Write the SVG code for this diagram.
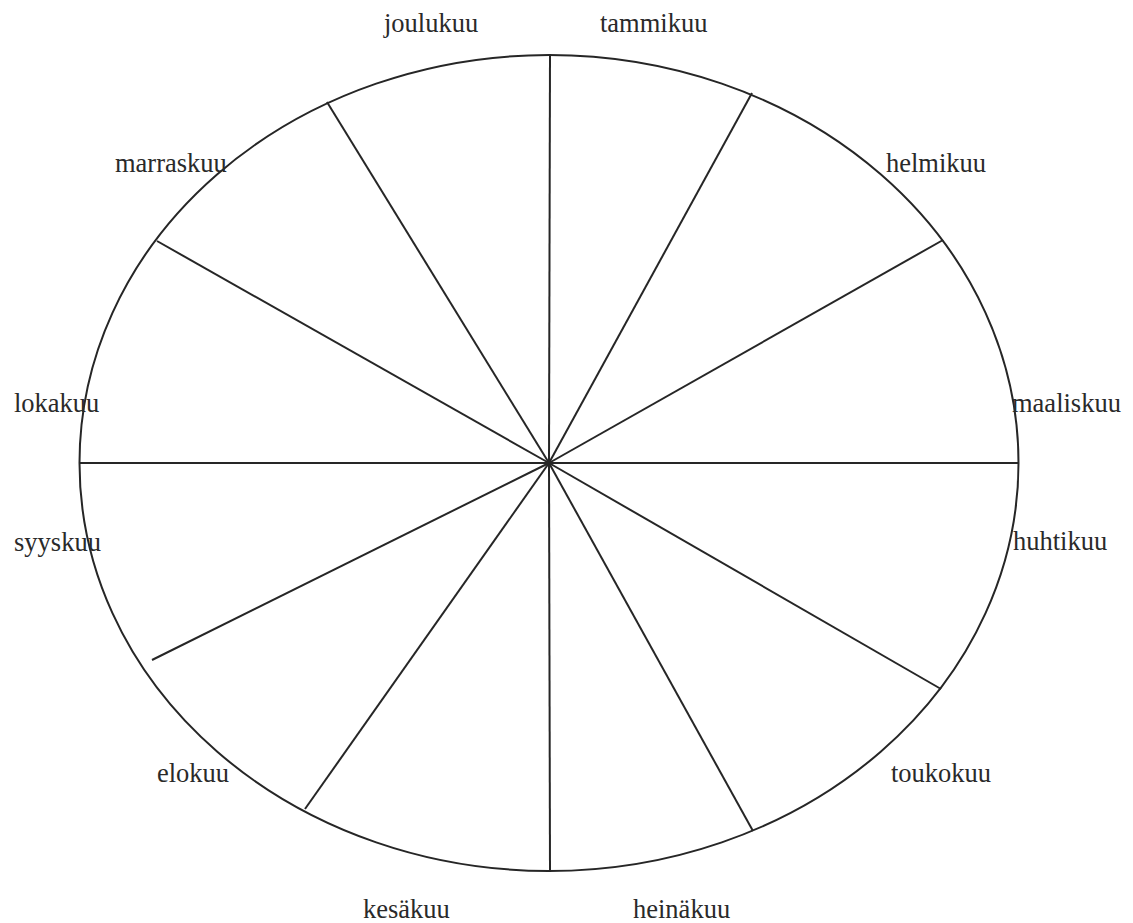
<svg xmlns="http://www.w3.org/2000/svg" width="1133" height="923" viewBox="0 0 1133 923">
<style>
.lbl{font-family:"Liberation Serif","Times New Roman",serif;font-size:26.5px;fill:#2a2a2a}
.ln{stroke:#262626;stroke-width:2;fill:none}
</style>
<rect width="1133" height="923" fill="#ffffff"/>
<g id="wheel">
<ellipse class="ln" cx="549" cy="463" rx="469.5" ry="408"/>
</g>
<g id="spokes">
<line class="ln" x1="549" y1="463" x2="550" y2="55"/>
<line class="ln" x1="549" y1="463" x2="752" y2="93"/>
<line class="ln" x1="549" y1="463" x2="943" y2="240"/>
<line class="ln" x1="549" y1="463" x2="1018" y2="463"/>
<line class="ln" x1="549" y1="463" x2="941" y2="689"/>
<line class="ln" x1="549" y1="463" x2="753" y2="831"/>
<line class="ln" x1="549" y1="463" x2="550" y2="871"/>
<line class="ln" x1="549" y1="463" x2="305" y2="809"/>
<line class="ln" x1="549" y1="463" x2="152" y2="660"/>
<line class="ln" x1="549" y1="463" x2="79" y2="463"/>
<line class="ln" x1="549" y1="463" x2="157" y2="241"/>
<line class="ln" x1="549" y1="463" x2="327" y2="102"/>
</g>
<g id="tammikuu"><text class="lbl" x="600" y="32">tammikuu</text></g>
<g id="helmikuu"><text class="lbl" x="886" y="172">helmikuu</text></g>
<g id="maaliskuu"><text class="lbl" x="1012" y="412">maaliskuu</text></g>
<g id="huhtikuu"><text class="lbl" x="1013" y="550">huhtikuu</text></g>
<g id="toukokuu"><text class="lbl" x="891" y="782">toukokuu</text></g>
<g id="heinakuu"><text class="lbl" x="633" y="918">heinäkuu</text></g>
<g id="kesakuu"><text class="lbl" x="363" y="918">kesäkuu</text></g>
<g id="elokuu"><text class="lbl" x="157" y="782">elokuu</text></g>
<g id="syyskuu"><text class="lbl" x="14" y="551">syyskuu</text></g>
<g id="lokakuu"><text class="lbl" x="14" y="412">lokakuu</text></g>
<g id="marraskuu"><text class="lbl" x="115" y="172">marraskuu</text></g>
<g id="joulukuu"><text class="lbl" x="384" y="32">joulukuu</text></g>
</svg>
